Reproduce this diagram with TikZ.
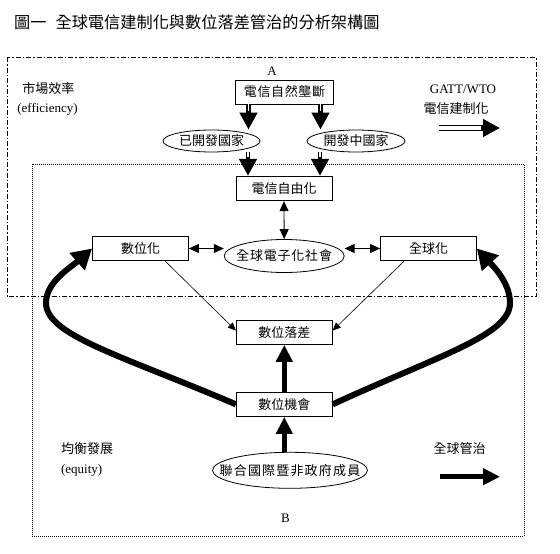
\documentclass[tikz,border=0pt]{standalone}
\usepackage{fontspec}
\setmainfont{Liberation Serif}
\newfontfamily\cjk{Noto Sans CJK TC}
\usetikzlibrary{shapes.geometric}
\usetikzlibrary{arrows.meta}

\tikzset{
    zh/.style = {font = \cjk\fontsize{13}{15}\selectfont},
    en/.style = {font = \rmfamily\fontsize{13}{15}\selectfont},
    box/.style = {draw, line width = 0.8pt, inner sep = 0pt, minimum width = 96pt, minimum height = 24.5pt, zh},
    oval/.style = {ellipse, draw, line width = 0.8pt, inner sep = 0pt, zh},
    dblarrow/.style 2 args = {line width = #1, -{Triangle[length = 17pt, width = 17pt]},
        postaction = {draw = white, line width = #2, -, shorten > = 19pt}},
    fat/.style = {line width = 5pt, -{Triangle[length = 17pt, width = 16pt]}},
    swing/.style = {line width = 6pt, -{Triangle[length = 20pt, width = 22pt]}},
    fine/.style = {line width = 0.6pt, -{Triangle[length = 8pt, width = 7pt]}},
    twin/.style = {line width = 0.8pt, {Triangle[length = 10pt, width = 9pt]}-{Triangle[length = 10pt, width = 9pt]}}
}

\begin{document}
\begin{tikzpicture}[x = 1pt, y = -1pt]
        %   \draw [help lines] (0,0) grid (560,554);
        \useasboundingbox (0,0) rectangle (560,554);

        \node [anchor = west, inner sep = 0pt, font = \cjk\fontsize{16.2}{18}\selectfont] (title) at (14,22)
        {圖一\hspace{9pt}全球電信建制化與數位落差管治的分析架構圖};

        % A and B frames
        \draw [line width = 0.8pt, dash pattern = on 5pt off 2pt on 1.5pt off 2pt] (7,57) rectangle (536,296);
        \draw [line width = 0.8pt, dash pattern = on 1pt off 1pt] (32,164) rectangle (524,536);

        \node [en] (lblA) at (272,71) {A};
        \node [en] (lblB) at (285.5,518) {B};

        \node [zh] (market) at (48.5,89) {市場效率};
        \node [en] (eff) at (47.5,109) {(efficiency)};
        \node [en] (gatt) at (463,89.5) {GATT/WTO};
        \node [zh] (regime) at (456,108.5) {電信建制化};
        \node [zh] (balance) at (87,448.5) {均衡發展};
        \node [en] (equity) at (81.7,470) {(equity)};
        \node [zh] (govern) at (459.7,449) {全球管治};

        \node [box, font = \cjk\fontsize{13}{15}\selectfont\addfontfeature{LetterSpace = 5}, minimum width = 98pt, minimum height = 24pt] (mono) at (284.5,92) {電信自然壟斷};
        \node [oval, minimum width = 97pt, minimum height = 22pt] (dev) at (211.5,141) {\makebox[0pt]{已開發國家}};
        \node [oval, minimum width = 98pt, minimum height = 22pt] (devg) at (356,141) {\makebox[0pt]{開發中國家}};
        \node [box] (lib) at (284,188.5) {電信自由化};

        \node [box] (digit) at (140.5,248.5) {數位化};
        \node [oval, font = \cjk\fontsize{13}{15}\selectfont\addfontfeature{LetterSpace = 6}, minimum width = 120pt, minimum height = 33pt] (esoc) at (284.2,256) {\makebox[0pt]{全球電子化社會}};
        \node [box] (glob) at (428.5,248.5) {全球化};

        \node [box] (gap) at (284.3,332.2) {數位落差};
        \node [box] (opp) at (284.3,404.3) {數位機會};
        \node [oval, font = \cjk\fontsize{13}{15}\selectfont\addfontfeature{LetterSpace = 9}, minimum width = 155pt, minimum height = 36pt] (un) at (290,470.3) {\makebox[0pt]{聯合國際暨非政府成員}};

        \coordinate (gattS) at (439,128);
        \coordinate (gattE) at (500,128);
        \coordinate (govS) at (440,476.7);
        \coordinate (govE) at (500,476.7);

        \draw [dblarrow = {4.5pt}{1.8pt}] ([xshift = -36pt]mono.south) -- ([xshift = -36pt]mono.south |- dev.north);
        \draw [dblarrow = {4.5pt}{1.8pt}] ([xshift = 36pt]mono.south) -- ([xshift = 36pt]mono.south |- devg.north);
        \draw [dblarrow = {4.5pt}{1.8pt}] ([xshift = 36.5pt]dev.south) -- ([xshift = -36pt]lib.north);
        \draw [dblarrow = {4.5pt}{1.8pt}] ([xshift = -36pt]devg.south) -- ([xshift = 36pt]lib.north);
        \draw [dblarrow = {6.3pt}{3.5pt}] (gattS) -- (gattE);

        \draw [twin] (lib.south) -- (esoc.north);
        \draw [twin] (digit.east) -- (digit.east -| esoc.west);
        \draw [twin] (glob.west -| esoc.east) -- (glob.west);

        \draw [fine] ([xshift = -23.7pt]digit.south east) -- ([yshift = -11pt]gap.north west);
        \draw [fine] ([xshift = 24pt]glob.south west) -- ([yshift = -11pt]gap.north east);

        \draw [fat] (un.north -| opp.south) -- (opp.south);
        \draw [fat] (opp.north) -- (gap.south);
        \draw [fat, line width = 4.5pt] (govS) -- (govE);

        \draw [swing] (opp.west) .. controls (120,355) and (46,335) .. (46,303)
            .. controls (46,282) and (70,268) .. (digit.west);
        \draw [swing] (opp.east) .. controls (440,355) and (510,335) .. (510,303)
            .. controls (510,282) and (492,265) .. (glob.east);
\end{tikzpicture}
\end{document}
